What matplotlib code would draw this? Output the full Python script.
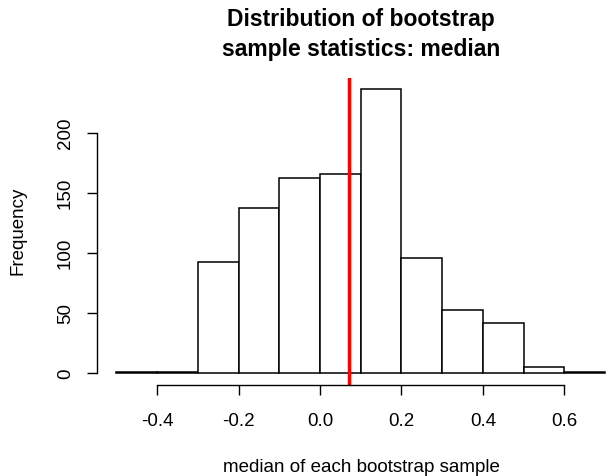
import matplotlib
matplotlib.use("Agg")
import matplotlib.pyplot as plt
import numpy as np

plt.rcParams['font.family'] = ['Liberation Sans', 'DejaVu Sans']

bin_edges = [-0.5, -0.4, -0.3, -0.2, -0.1, 0.0, 0.1, 0.2, 0.3, 0.4, 0.5, 0.6, 0.7]
counts = [1, 1, 93, 138, 163, 166, 237, 96, 53, 42, 5, 1]
observed_median = 0.07
x_ticks = [-0.4, -0.2, 0.0, 0.2, 0.4, 0.6]
x_tick_labels = ["-0.4", "-0.2", "0.0", "0.2", "0.4", "0.6"]
y_ticks = [0, 50, 100, 150, 200]
title = "Distribution of bootstrap\nsample statistics: median"
xlabel = "median of each bootstrap sample"
ylabel = "Frequency"

W, H = 606, 476
fig = plt.figure(figsize=(W / 100, H / 100), dpi=100)

left_px, right_px, bottom_px, top_px = 96.8, 606, 384.7, 77.5
ax = fig.add_axes([left_px / W, 1 - bottom_px / H, (right_px - left_px) / W, (bottom_px - top_px) / H])

x0 = -0.5 - 0.04 * 1.2
x1 = x0 + (right_px - left_px) / 407.3
ax.set_xlim(x0, x1)
ymax = max(counts)
ax.set_ylim(-0.04 * ymax, ymax * 1.04)

widths = np.diff(bin_edges)
ax.bar(bin_edges[:-1], counts, width=widths, align='edge', facecolor='white',
       edgecolor='black', linewidth=1.1, clip_on=False)
ax.axvline(observed_median, color='#ff0000', linewidth=2.5)

for s in ['top', 'right']:
    ax.spines[s].set_visible(False)
ax.spines['bottom'].set_bounds(x_ticks[0], x_ticks[-1])
ax.spines['left'].set_bounds(y_ticks[0], y_ticks[-1])
for s in ['bottom', 'left']:
    ax.spines[s].set_linewidth(1.0)
    ax.spines[s].set_color('black')

ax.set_xticks(x_ticks)
ax.set_xticklabels(x_tick_labels)
ax.set_yticks(y_ticks)
ax.tick_params(axis='both', length=7.5, width=1.0, labelsize=13.5, colors='black')
ax.tick_params(axis='x', pad=13)
ax.tick_params(axis='y', pad=9, labelrotation=90)
for lab in ax.get_yticklabels():
    lab.set_va('center')

fig.text(361 / W, 1 - 467 / H, xlabel, ha='center', va='center', fontsize=13.5)
fig.text(18 / W, 1 - 231 / H, ylabel, ha='center', va='center', fontsize=13.5, rotation=90)
fig.text(361 / W, 1 - 34.5 / H, title, ha='center', va='center', fontsize=16.5,
         fontweight='bold', linespacing=1.38)

fig.savefig("out.png", dpi=100)
